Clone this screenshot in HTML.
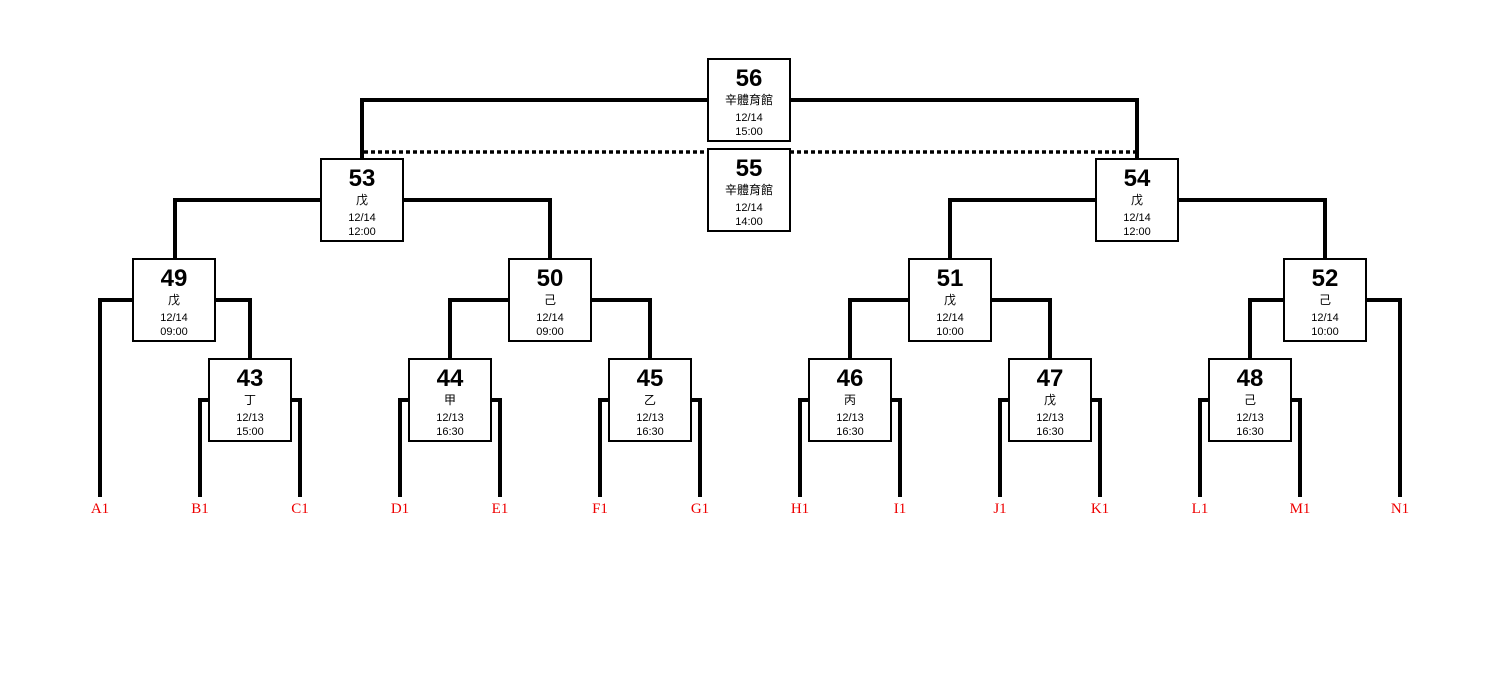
<!DOCTYPE html>
<html><head><meta charset="utf-8"><style>
html,body{margin:0;padding:0;background:#fff;}
svg{display:block}
.n{font:bold 24px "Liberation Sans",sans-serif;text-anchor:middle}
.v{font:12px "Liberation Sans","Noto Sans CJK TC",sans-serif;text-anchor:middle}
.d{font:11px "Liberation Sans",sans-serif;text-anchor:middle}
.l{font:15px "Liberation Serif",serif;fill:#e00;text-anchor:middle}
</style></head><body>
<svg width="1500" height="700" viewBox="0 0 1500 700" xmlns="http://www.w3.org/2000/svg">
<g fill="none" stroke="#000" stroke-width="4">
<path d="M200 497V400H210M290 400H300V497"/>
<path d="M400 497V400H410M490 400H500V497"/>
<path d="M600 497V400H610M690 400H700V497"/>
<path d="M800 497V400H810M890 400H900V497"/>
<path d="M1000 497V400H1010M1090 400H1100V497"/>
<path d="M1200 497V400H1210M1290 400H1300V497"/>
<path d="M100 497V300H134M214 300H250V358"/>
<path d="M450 358V300H510M590 300H650V358"/>
<path d="M850 358V300H910M990 300H1050V358"/>
<path d="M1250 358V300H1285M1365 300H1400V497"/>
<path d="M175 258V200H322M402 200H550V258"/>
<path d="M950 258V200H1097M1177 200H1325V258"/>
<path d="M362 158V100H709M789 100H1137V158"/>
<path d="M364 152H708M790 152H1135" stroke-width="3.5" stroke-dasharray="4 3"/>
</g>
<g fill="#fff" stroke="#000" stroke-width="2">
<rect x="708" y="59" width="82" height="82"/>
<rect x="708" y="149" width="82" height="82"/>
<rect x="321" y="159" width="82" height="82"/>
<rect x="1096" y="159" width="82" height="82"/>
<rect x="133" y="259" width="82" height="82"/>
<rect x="509" y="259" width="82" height="82"/>
<rect x="909" y="259" width="82" height="82"/>
<rect x="1284" y="259" width="82" height="82"/>
<rect x="209" y="359" width="82" height="82"/>
<rect x="409" y="359" width="82" height="82"/>
<rect x="609" y="359" width="82" height="82"/>
<rect x="809" y="359" width="82" height="82"/>
<rect x="1009" y="359" width="82" height="82"/>
<rect x="1209" y="359" width="82" height="82"/>
</g>
<g>
<text class="n" x="749" y="86">56</text><text class="v" x="749" y="104">辛體育館</text><text class="d" x="749" y="121">12/14</text><text class="d" x="749" y="135">15:00</text>
<text class="n" x="749" y="176">55</text><text class="v" x="749" y="194">辛體育館</text><text class="d" x="749" y="211">12/14</text><text class="d" x="749" y="225">14:00</text>
<text class="n" x="362" y="186">53</text><text class="v" x="362" y="204">戊</text><text class="d" x="362" y="221">12/14</text><text class="d" x="362" y="235">12:00</text>
<text class="n" x="1137" y="186">54</text><text class="v" x="1137" y="204">戊</text><text class="d" x="1137" y="221">12/14</text><text class="d" x="1137" y="235">12:00</text>
<text class="n" x="174" y="286">49</text><text class="v" x="174" y="304">戊</text><text class="d" x="174" y="321">12/14</text><text class="d" x="174" y="335">09:00</text>
<text class="n" x="550" y="286">50</text><text class="v" x="550" y="304">己</text><text class="d" x="550" y="321">12/14</text><text class="d" x="550" y="335">09:00</text>
<text class="n" x="950" y="286">51</text><text class="v" x="950" y="304">戊</text><text class="d" x="950" y="321">12/14</text><text class="d" x="950" y="335">10:00</text>
<text class="n" x="1325" y="286">52</text><text class="v" x="1325" y="304">己</text><text class="d" x="1325" y="321">12/14</text><text class="d" x="1325" y="335">10:00</text>
<text class="n" x="250" y="386">43</text><text class="v" x="250" y="404">丁</text><text class="d" x="250" y="421">12/13</text><text class="d" x="250" y="435">15:00</text>
<text class="n" x="450" y="386">44</text><text class="v" x="450" y="404">甲</text><text class="d" x="450" y="421">12/13</text><text class="d" x="450" y="435">16:30</text>
<text class="n" x="650" y="386">45</text><text class="v" x="650" y="404">乙</text><text class="d" x="650" y="421">12/13</text><text class="d" x="650" y="435">16:30</text>
<text class="n" x="850" y="386">46</text><text class="v" x="850" y="404">丙</text><text class="d" x="850" y="421">12/13</text><text class="d" x="850" y="435">16:30</text>
<text class="n" x="1050" y="386">47</text><text class="v" x="1050" y="404">戊</text><text class="d" x="1050" y="421">12/13</text><text class="d" x="1050" y="435">16:30</text>
<text class="n" x="1250" y="386">48</text><text class="v" x="1250" y="404">己</text><text class="d" x="1250" y="421">12/13</text><text class="d" x="1250" y="435">16:30</text>
</g>
<g>
<text class="l" x="100" y="513">A1</text><text class="l" x="200" y="513">B1</text><text class="l" x="300" y="513">C1</text>
<text class="l" x="400" y="513">D1</text><text class="l" x="500" y="513">E1</text><text class="l" x="600" y="513">F1</text>
<text class="l" x="700" y="513">G1</text><text class="l" x="800" y="513">H1</text><text class="l" x="900" y="513">I1</text>
<text class="l" x="1000" y="513">J1</text><text class="l" x="1100" y="513">K1</text><text class="l" x="1200" y="513">L1</text>
<text class="l" x="1300" y="513">M1</text><text class="l" x="1400" y="513">N1</text>
</g>
</svg>
</body></html>
